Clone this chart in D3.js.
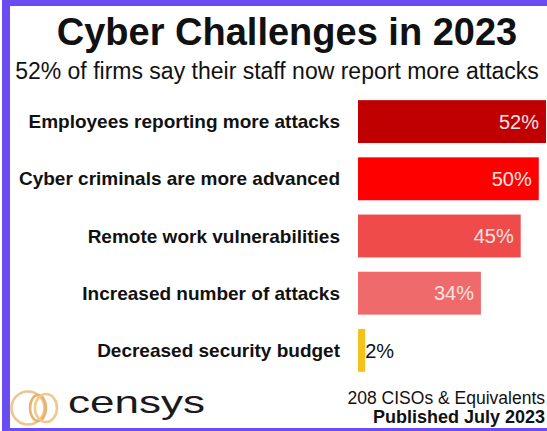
<!DOCTYPE html>
<html>
<head>
<meta charset="utf-8">
<script src="https://cdn.jsdelivr.net/npm/d3@7/dist/d3.min.js"></script>
<style>
  html, body { margin: 0; padding: 0; background: #fff; }
  svg { display: block; }
  text { font-family: "Liberation Sans", Arial, sans-serif; }
</style>
</head>
<body>
<svg id="chart" width="547" height="431"></svg>
<script>
const title = "Cyber Challenges in 2023";
const subtitle = "52% of firms say their staff now report more attacks";
const categories = [
  "Employees reporting more attacks",
  "Cyber criminals are more advanced",
  "Remote work vulnerabilities",
  "Increased number of attacks",
  "Decreased security budget"
];
const values = [52, 50, 45, 34, 2];
const valueLabels = ["52%", "50%", "45%", "34%", "2%"];
const sourceLine = "208 CISOs & Equivalents";
const publishedLine = "Published July 2023";
const brand = "censys";

const palette = ["#c00000", "#ff0000", "#ef4b4b", "#ef6a6a", "#f4c21c"];

const W = 547, H = 431;
const svg = d3.select("#chart");

// background + frame
svg.append("rect").attr("x", 0).attr("y", 0).attr("width", W).attr("height", H).attr("fill", "#fff");
const frame = "#6b4cf2";
svg.append("rect").attr("x", 0).attr("y", 0).attr("width", W).attr("height", 6).attr("fill", frame);
svg.append("rect").attr("x", 2).attr("y", 0).attr("width", 8).attr("height", H).attr("fill", frame);
svg.append("rect").attr("x", 0).attr("y", H - 3).attr("width", W).attr("height", 3).attr("fill", frame);
svg.append("rect").attr("x", 0).attr("y", 0).attr("width", 2).attr("height", H).attr("fill", "#fff");

// titles
svg.append("text").attr("x", 287).attr("y", 45).attr("text-anchor", "middle")
  .attr("font-size", 38).attr("font-weight", "bold").attr("fill", "#111").text(title);
svg.append("text").attr("x", 277).attr("y", 79).attr("text-anchor", "middle")
  .attr("font-size", 23).attr("fill", "#111").text(subtitle);

// scales
const x0 = 358;
const x = d3.scaleLinear().domain([0, 52]).range([x0, 546]);
const y = d3.scaleBand().domain(categories).range([93, 379]).paddingInner(0.25).paddingOuter(0.125);
const color = d3.scaleOrdinal().domain(categories).range(palette);

const rows = categories.map((c, i) => ({ cat: c, val: values[i], lab: valueLabels[i] }));

svg.selectAll("rect.bar").data(rows).enter().append("rect")
  .attr("class", "bar")
  .attr("x", x(0))
  .attr("y", d => y(d.cat))
  .attr("width", d => x(d.val) - x(0))
  .attr("height", y.bandwidth())
  .attr("fill", d => color(d.cat));

// category labels
svg.selectAll("text.cat").data(rows).enter().append("text")
  .attr("class", "cat")
  .attr("x", 340)
  .attr("y", d => y(d.cat) + y.bandwidth() / 2)
  .attr("dy", "0.35em")
  .attr("text-anchor", "end")
  .attr("font-size", 19)
  .attr("font-weight", "bold")
  .attr("fill", "#111")
  .text(d => d.cat);

// value labels
svg.selectAll("text.val").data(rows).enter().append("text")
  .attr("class", "val")
  .attr("x", d => d.val >= 10 ? x(d.val) - 7 : x(d.val) + 0)
  .attr("y", d => y(d.cat) + y.bandwidth() / 2)
  .attr("dy", "0.36em")
  .attr("text-anchor", d => d.val >= 10 ? "end" : "start")
  .attr("font-size", 20)
  .attr("fill", d => d.val >= 10 ? "#f6e4e4" : "#111")
  .text(d => d.lab);

// logo
const logo = svg.append("g").attr("fill", "none").attr("stroke-width", 2.6);
logo.append("circle").attr("cx", 28).attr("cy", 408).attr("r", 16.5).attr("stroke", "#efc58f");
logo.append("ellipse").attr("cx", 38).attr("cy", 408).attr("rx", 8).attr("ry", 13).attr("stroke", "#eab070");
logo.append("ellipse").attr("cx", 46).attr("cy", 408).attr("rx", 11).attr("ry", 14).attr("stroke", "#f0c890");
svg.append("text").attr("x", 68).attr("y", 413).attr("font-family", "Lato, 'Noto Sans', sans-serif")
  .attr("font-size", 32).attr("fill", "#1a1a1a")
  .attr("textLength", 137).attr("lengthAdjust", "spacingAndGlyphs").text(brand);

// footer text
svg.append("text").attr("x", 545).attr("y", 404).attr("text-anchor", "end")
  .attr("font-size", 17.5).attr("fill", "#111").text(sourceLine);
svg.append("text").attr("x", 545).attr("y", 423).attr("text-anchor", "end")
  .attr("font-size", 18).attr("font-weight", "bold").attr("fill", "#111").text(publishedLine);
</script>
</body>
</html>
